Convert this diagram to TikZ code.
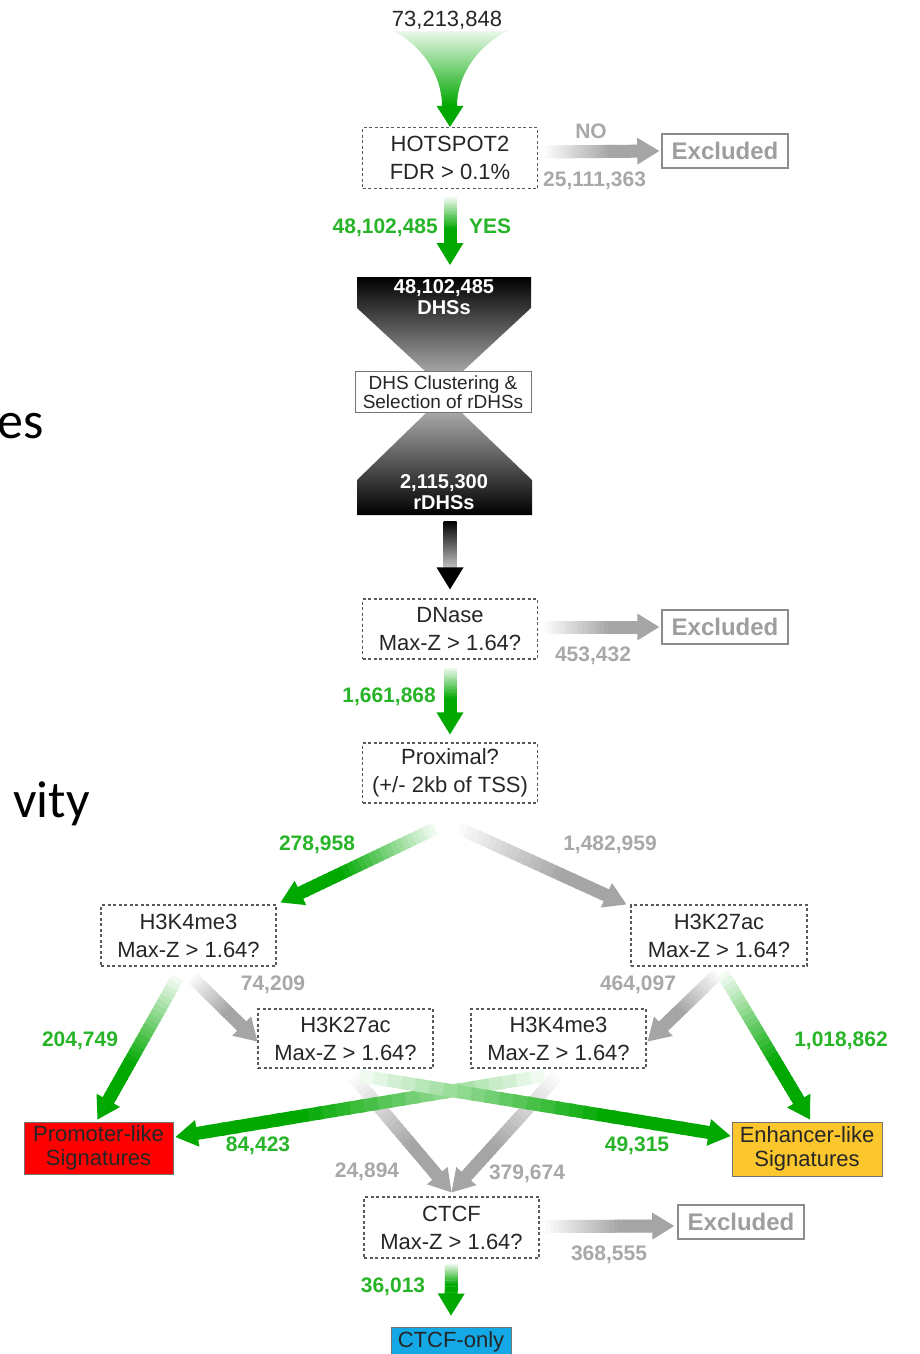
\documentclass[tikz,border=0pt]{standalone}
\usepackage{fontspec}
\setmainfont{Liberation Sans}
\newfontfamily\slidefont{Carlito}
\usetikzlibrary{calc,positioning}

\definecolor{flowgreen}{RGB}{0,168,0}
\definecolor{labgreen}{RGB}{40,180,40}
\definecolor{flowgray}{RGB}{165,165,165}
\definecolor{labgray}{RGB}{168,168,168}
\definecolor{enhyellow}{RGB}{252,198,45}
\definecolor{ctcfblue}{RGB}{20,168,230}

\newcommand{\boxfont}{\fontsize{22}{28}\selectfont}
\newcommand{\numfont}{\fontsize{21}{25}\selectfont\bfseries}

% fading arrow: start, tip, colour
\newcommand{\fadearrow}[3]{%
  \coordinate (fa-base) at ($(#2)!22pt!(#1)$);
  \foreach \k in {0,...,24}{%
    \pgfmathtruncatemacro{\tint}{min(100,6+\k*5.5)}%
    \pgfmathsetmacro{\tbeg}{\k/25}%
    \pgfmathsetmacro{\tend}{(\k+1.3)/25}%
    \draw[line width=13pt, #3!\tint!white] ($(#1)!\tbeg!(fa-base)$) -- ($(#1)!\tend!(fa-base)$);
  }%
  \fill[#3] ($(fa-base)!13.5pt!90:(#2)$) -- (#2) -- ($(fa-base)!13.5pt!-90:(#2)$) -- cycle;
}

\begin{document}
\begin{tikzpicture}[x=1pt, y=-1pt,
    testbox/.style={draw=black!65, dash pattern=on 3pt off 2.5pt, line width=1.2pt, fill=white,
      minimum width=175pt, minimum height=60pt, align=center, font=\boxfont, text=black!85, inner sep=0pt},
    exclbox/.style={draw=black!45, line width=1.5pt, fill=white, text=black!38,
      minimum width=126pt, minimum height=34pt, inner sep=0pt, font=\fontsize{24}{28}\selectfont\bfseries},
    resultbox/.style={draw=black!55, line width=1pt, align=center, inner sep=0pt,
      font=\fontsize{22}{24}\selectfont, text=black!85},
    dhstext/.style={text=white, align=center, font=\fontsize{20}{21}\selectfont\bfseries},
    greenlab/.style={text=labgreen, font=\numfont, inner sep=0pt},
    graylab/.style={text=labgray, font=\numfont, inner sep=0pt}]
    \useasboundingbox (0,0) rectangle (920,1354);

    % Slide text at the left edge
    \node[font=\fontsize{52}{60}\slidefont, anchor=base east, inner sep=0pt] (slidees) at (44,438) {es};
    \node[font=\fontsize{52}{60}\slidefont, anchor=base east, inner sep=0pt] (slidevity) at (90,817) {vity};

    % Hourglass
    \shade[top color=black, bottom color=black!35] (357,277) -- (531,277) -- (531,308) -- (462,372) -- (426,372) -- (357,308) -- cycle;
    \shade[top color=black!35, bottom color=black] (426,413) -- (462,413) -- (532,480) -- (532,515) -- (357,515) -- (357,480) -- cycle;

    % Nodes
    \node[text=black!85, font=\fontsize{22}{26}\selectfont] (start) at (447,20) {73,213,848};
    \node[testbox, minimum height=61pt] (hot) at (450,158) {HOTSPOT2\\FDR > 0.1\%};
    \node[exclbox] (ex1) at (725,151) {Excluded};
    \node[dhstext] (dhs) at (444,297) {48,102,485\\DHSs};
    \node[draw=black!55, line width=1pt, fill=white, minimum width=176pt, minimum height=41pt, inner sep=0pt,
      align=center, font=\fontsize{19}{19}\selectfont, text=black!85] (clust) at (443,392) {DHS Clustering \&\\Selection of rDHSs};
    \node[dhstext] (rdhs) at (444,492) {2,115,300\\rDHSs};
    \node[testbox] (dnase) at (450,629) {DNase\\Max-Z > 1.64?};
    \node[exclbox] (ex2) at (725,627) {Excluded};
    \node[testbox] (prox) at (450,773) {Proximal?\\(+/- 2kb of TSS)};
    \node[testbox, minimum height=61pt] (k4a) at (188.5,935.5) {H3K4me3\\Max-Z > 1.64?};
    \node[testbox, minimum height=61pt, minimum width=176pt] (k27a) at (719,935.5) {H3K27ac\\Max-Z > 1.64?};
    \node[testbox, minimum height=59pt] (k27b) at (345.5,1038.5) {H3K27ac\\Max-Z > 1.64?};
    \node[testbox, minimum height=59pt] (k4b) at (558.5,1038.5) {H3K4me3\\Max-Z > 1.64?};
    \node[resultbox, fill=red, minimum width=149pt, minimum height=52pt] (prom) at (98.5,1148) {Promoter-like\\Signatures};
    \node[resultbox, fill=enhyellow, minimum width=150pt, minimum height=54pt] (enh) at (807,1149) {Enhancer-like\\Signatures};
    \node[testbox, minimum height=61pt] (ctcf) at (451.5,1227.5) {CTCF\\Max-Z > 1.64?};
    \node[exclbox] (ex3) at (741,1222) {Excluded};
    \node[resultbox, fill=ctcfblue, minimum width=120pt, minimum height=30pt] (only) at (451,1342) {CTCF-only};

    % Funnel into HOTSPOT2
    \shade[top color=flowgreen!8, bottom color=flowgreen] ($(hot.north)+(-57,-96)$) -- ($(hot.north)+(58,-96)$)
      .. controls ($(hot.north)+(30,-83)$) and ($(hot.north)+(7,-53)$) .. ($(hot.north)+(7,-21)$)
      -- ($(hot.north)+(-8,-21)$)
      .. controls ($(hot.north)+(-8,-53)$) and ($(hot.north)+(-30,-83)$) .. ($(hot.north)+(-57,-96)$) -- cycle;
    \fill[flowgreen] ($(hot.north)+(-13.5,-21)$) -- ($(hot.north)+(13.5,-21)$) -- (hot.north) -- cycle;

    % Black arrow out of the rDHSs
    \coordinate (rdhsS) at (450,521);
    \shade[top color=black, bottom color=black!25] ($(rdhsS)+(-6.5,0)$) rectangle ($(dnase.north)+(6.5,-31)$);
    \fill[black] ($(dnase.north)+(-13.5,-31)$) -- ($(dnase.north)+(13.5,-31)$) -- ($(dnase.north)+(0,-9)$) -- cycle;

    % Start and end points of the connectors
    \coordinate (hotS) at ($(hot.south)+(0,8)$);
    \coordinate (dhsN) at (450,265);
    \coordinate (hotE) at ($(hot.east)+(7,-6)$);
    \coordinate (ex1W) at ($(ex1.west)+(-2,0)$);
    \coordinate (dnE) at ($(dnase.east)+(7,-2)$);
    \coordinate (ex2W) at ($(ex2.west)+(-2,0)$);
    \coordinate (dnS) at ($(dnase.south)+(0,8)$);
    \coordinate (proxN) at ($(prox.north)+(0,-8)$);
    \coordinate (proxL) at ($(prox.south)+(-15,25)$);
    \coordinate (proxR) at ($(prox.south)+(10,25)$);
    \coordinate (k4aNE) at ($(k4a.north east)+(4,-2)$);
    \coordinate (k27aNW) at ($(k27a.north west)+(-4,0)$);
    \coordinate (k4aS1) at ($(k4a.south)+(-11,11)$);
    \coordinate (k4aS2) at ($(k4a.south)+(4,11)$);
    \coordinate (k27aS1) at ($(k27a.south)+(-1,7)$);
    \coordinate (k27aS2) at ($(k27a.south)+(4,7)$);
    \coordinate (promN) at ($(prom.north)+(-1,-2)$);
    \coordinate (k27bW) at ($(k27b.west)+(0,3)$);
    \coordinate (k4bE) at ($(k4b.east)+(1,3)$);
    \coordinate (enhN) at ($(enh.north)+(3,-2)$);
    \coordinate (k4bS1) at ($(k4b.south)+(-14,7)$);
    \coordinate (k4bS2) at ($(k4b.south)+(-2,8)$);
    \coordinate (k27bS1) at ($(k27b.south)+(14,7)$);
    \coordinate (k27bS2) at ($(k27b.south)+(8,8)$);
    \coordinate (promE) at ($(prom.east)+(2,-11)$);
    \coordinate (enhW) at ($(enh.west)+(-1,-13)$);
    \coordinate (ctcfN) at ($(ctcf.north)+(0,-4)$);
    \coordinate (ctE) at ($(ctcf.east)+(6,-1)$);
    \coordinate (ex3W) at ($(ex3.west)+(-3,4)$);
    \coordinate (ctS) at ($(ctcf.south)+(0,5)$);
    \coordinate (onlyN) at ($(only.north)+(0,-11)$);

    % Gray connectors
    \fadearrow{hotE}{ex1W}{flowgray}
    \fadearrow{dnE}{ex2W}{flowgray}
    \fadearrow{proxR}{k27aNW}{flowgray}
    \fadearrow{k4aS2}{k27bW}{flowgray}
    \fadearrow{k27aS1}{k4bE}{flowgray}
    \fadearrow{k27bS2}{ctcfN}{flowgray}
    \fadearrow{k4bS2}{ctcfN}{flowgray}
    \fadearrow{ctE}{ex3W}{flowgray}

    % Green connectors
    \fadearrow{hotS}{dhsN}{flowgreen}
    \fadearrow{dnS}{proxN}{flowgreen}
    \fadearrow{proxL}{k4aNE}{flowgreen}
    \fadearrow{k4aS1}{promN}{flowgreen}
    \fadearrow{k27aS2}{enhN}{flowgreen}
    \fadearrow{k4bS1}{promE}{flowgreen}
    \fadearrow{k27bS1}{enhW}{flowgreen}
    \fadearrow{ctS}{onlyN}{flowgreen}

    % Counts
    \node[graylab] (noLab) at (591,131) {NO};
    \node[graylab, anchor=west] (n25) at (543,181) {25,111,363};
    \node[greenlab, anchor=east] (n48) at (438,228) {48,102,485};
    \node[greenlab, anchor=west] (yesLab) at (469,226) {YES};
    \node[graylab] (n453) at (593,656) {453,432};
    \node[greenlab, anchor=east] (n166) at (436,697) {1,661,868};
    \node[greenlab] (n278) at (317,845) {278,958};
    \node[graylab] (n148) at (610,845) {1,482,959};
    \node[graylab] (n742) at (273,985) {74,209};
    \node[graylab] (n464) at (638,985) {464,097};
    \node[greenlab] (n204) at (80,1041) {204,749};
    \node[greenlab] (n101) at (841,1041) {1,018,862};
    \node[greenlab] (n844) at (258,1146) {84,423};
    \node[greenlab] (n493) at (637,1146) {49,315};
    \node[graylab] (n248) at (367,1172) {24,894};
    \node[graylab] (n379) at (527,1174) {379,674};
    \node[graylab] (n368) at (609,1255) {368,555};
    \node[greenlab] (n360) at (393,1287) {36,013};
\end{tikzpicture}
\end{document}
